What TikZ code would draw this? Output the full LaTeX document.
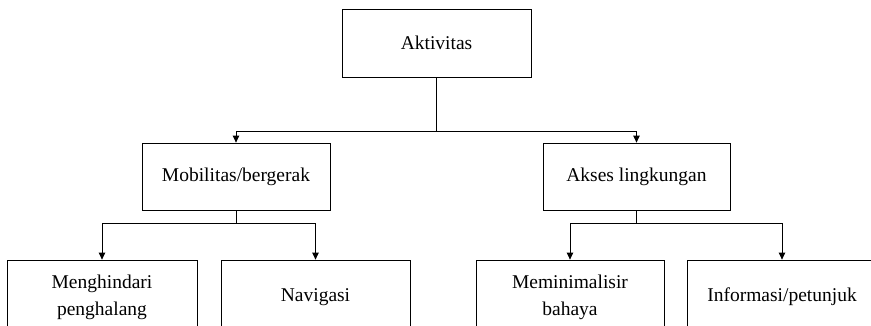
\documentclass[tikz,border=0pt]{standalone}
\usepackage{fontspec}
\setmainfont{Liberation Serif}
\usetikzlibrary{arrows.meta,calc}

\begin{document}
\begin{tikzpicture}[x=1pt, y=-1pt,
  box/.style={draw, line width=0.8pt, inner sep=0pt, align=center,
    font=\fontsize{19.5}{27}\selectfont},
  link/.style={line width=0.8pt},
  arr/.style={link, -{Triangle[length=7pt, width=6.5pt]}}]
  \useasboundingbox (0,0) rectangle (871,325);
  \clip (0,0) rectangle (871,325);

  % top level
  \node[box, minimum width=189pt, minimum height=68pt] (akt) at (436.5,43) {Aktivitas};

  % second level
  \node[box, minimum width=188pt, minimum height=67pt] (mob) at (236,176.5) {Mobilitas/bergerak};
  \node[box, minimum width=187pt, minimum height=67pt] (aks) at (636.5,176.5) {Akses lingkungan};

  % third level (boxes run past the lower edge)
  \node[box, minimum width=190pt, minimum height=74pt] (hin) at (102,297) {Menghindari\\penghalang};
  \node[box, minimum width=189pt, minimum height=74pt] (nav) at (315.5,297) {Navigasi};
  \node[box, minimum width=188pt, minimum height=74pt] (min) at (570,297) {Meminimalisir\\bahaya};
  \node[box, minimum width=190pt, minimum height=74pt] (inf) at (782,297) {Informasi/petunjuk};

  % connectors
  \coordinate (j0) at ($(akt.south)+(0,54)$);
  \draw[arr] (akt.south) -- (j0) -| (mob.north);
  \draw[arr] (j0) -| (aks.north);

  \coordinate (j1) at ($(mob.south)+(0,13)$);
  \draw[arr] (mob.south) -- (j1) -| (hin.north);
  \draw[arr] (j1) -| (nav.north);

  \coordinate (j2) at ($(aks.south)+(0,13)$);
  \draw[arr] (aks.south) -- (j2) -| (min.north);
  \draw[arr] (j2) -| (inf.north);
\end{tikzpicture}
\end{document}
